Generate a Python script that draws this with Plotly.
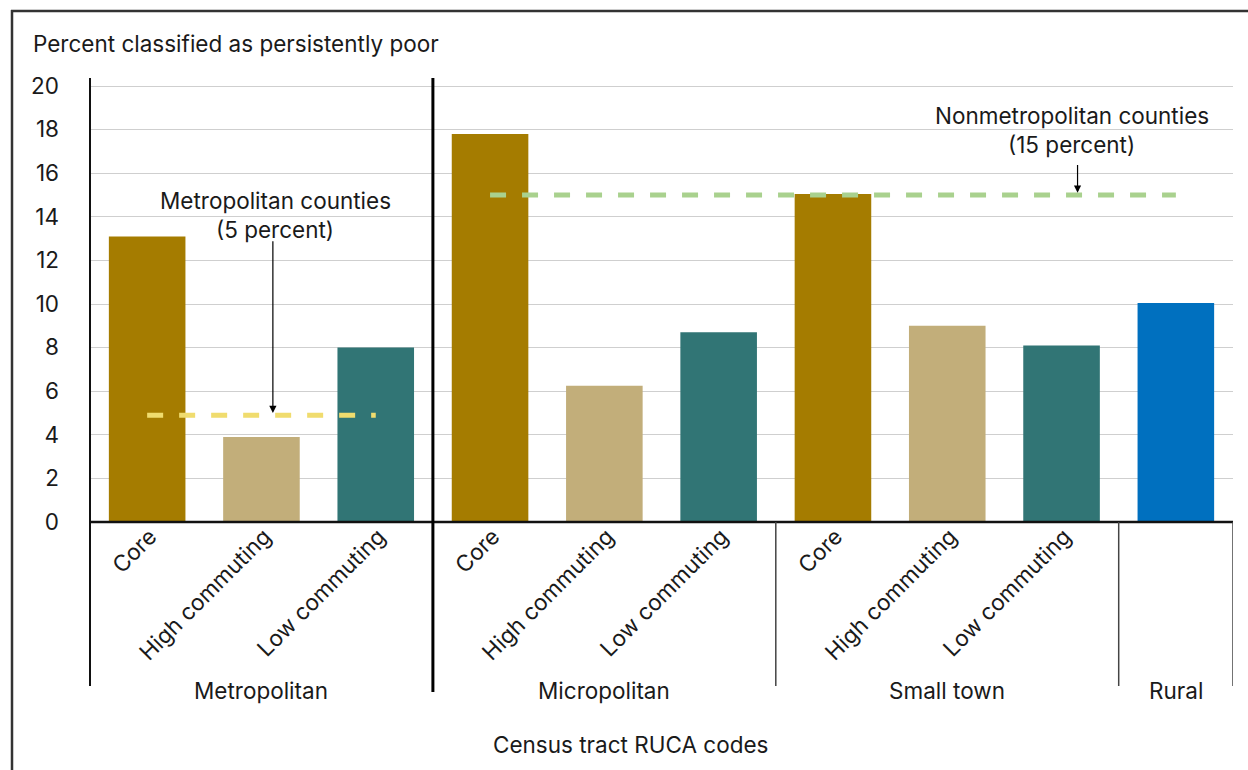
import plotly.graph_objects as go

# ---- data ----
categories = ["Core", "High commuting", "Low commuting",
              "Core", "High commuting", "Low commuting",
              "Core", "High commuting", "Low commuting",
              ""]
groups = ["Metropolitan", "Micropolitan", "Small town", "Rural"]
group_sizes = [3, 3, 3, 1]
values = [13.1, 3.9, 8.0, 17.8, 6.25, 8.7, 15.05, 9.0, 8.1, 10.05]
bar_colors = ["#A57C00", "#C2AE7A", "#317575",
              "#A57C00", "#C2AE7A", "#317575",
              "#A57C00", "#C2AE7A", "#317575",
              "#0070BF"]
metro_avg = 4.9
nonmetro_avg = 15.0
y_ticks = list(range(0, 21, 2))

W, H = 1248, 770
ML, MR, MT, MB = 90, 15, 78, 248
PW = W - ML - MR
PH = H - MT - MB

def px_x(p):
    return (p - ML) / PW

def px_y(p):
    return (H - MB - p) / PH

FONT = "Inter"
FS = 22.5
TXT = "#1a1a1a"

x_idx = list(range(len(values)))

fig = go.Figure()
fig.add_trace(go.Bar(x=x_idx, y=values, marker=dict(color=bar_colors, line=dict(width=0)),
                     width=0.67, showlegend=False, hoverinfo="skip"))
fig.add_trace(go.Scatter(x=[0, 2], y=[metro_avg, metro_avg], mode="lines",
                         line=dict(color="#F0DC6E", width=5, dash="16px,16px"),
                         showlegend=False, hoverinfo="skip"))
fig.add_trace(go.Scatter(x=[3, 9], y=[nonmetro_avg, nonmetro_avg], mode="lines",
                         line=dict(color="#A9D18E", width=5, dash="16px,16px"),
                         showlegend=False, hoverinfo="skip"))

shapes = []
# frame
shapes.append(dict(type="line", xref="paper", yref="paper", x0=px_x(12), x1=px_x(12),
                   y0=px_y(10), y1=px_y(775), line=dict(color="#333333", width=2.5)))
shapes.append(dict(type="line", xref="paper", yref="paper", x0=px_x(11), x1=px_x(1260),
                   y0=px_y(11), y1=px_y(11), line=dict(color="#333333", width=2.5)))
# left axis line
shapes.append(dict(type="line", xref="paper", yref="paper", x0=0, x1=0,
                   y0=px_y(686), y1=1, line=dict(color="#111111", width=2)))
# bottom axis line
shapes.append(dict(type="line", xref="paper", yref="paper", x0=0, x1=1,
                   y0=0, y1=0, line=dict(color="#111111", width=2.5)))
# group separators
start = 0
bounds = []
for s in group_sizes:
    bounds.append((start - 0.5, start + s - 0.5))
    start += s
for i, (a, b) in enumerate(bounds):
    if i == 0:
        shapes.append(dict(type="line", xref="x", yref="paper", x0=b, x1=b,
                           y0=px_y(692), y1=1, line=dict(color="#000000", width=3)))
    else:
        shapes.append(dict(type="line", xref="x", yref="paper", x0=b, x1=b,
                           y0=px_y(686), y1=0, line=dict(color="#444444", width=1.5)))

annotations = []
def txt(text, x, y, xref="paper", yref="paper", xanchor="center"):
    annotations.append(dict(text=text, xref=xref, yref=yref, x=x, y=y,
                            xanchor=xanchor, yanchor="middle", showarrow=False,
                            font=dict(family=FONT, size=FS, color=TXT)))

txt("Percent classified as persistently poor", px_x(31), px_y(44), xanchor="left")
for g, (a, b) in zip(groups, bounds):
    txt(g, (a + b) / 2, px_y(690), xref="x")
txt("Census tract RUCA codes", px_x(630), px_y(744))
# callouts
txt("Metropolitan counties", 1.12, px_y(201), xref="x")
txt("(5 percent)", 1.12, px_y(230), xref="x")
annotations.append(dict(text="", xref="x", yref="y", axref="x", ayref="y",
                        x=1.1, y=metro_avg + 0.1, ax=1.1, ay=12.95, showarrow=True,
                        arrowhead=2, arrowsize=1.2, arrowwidth=1.2, arrowcolor="#000000"))
txt("Nonmetropolitan counties", 8.09, px_y(115), xref="x")
txt("(15 percent)", 8.09, px_y(144), xref="x")
annotations.append(dict(text="", xref="x", yref="y", axref="x", ayref="y",
                        x=8.14, y=nonmetro_avg + 0.1, ax=8.14, ay=16.45, showarrow=True,
                        arrowhead=2, arrowsize=1.2, arrowwidth=1.2, arrowcolor="#000000"))

fig.update_layout(
    width=W, height=H,
    margin=dict(l=ML, r=MR, t=MT, b=MB, pad=0),
    paper_bgcolor="white", plot_bgcolor="white",
    font=dict(family=FONT, size=FS, color=TXT),
    shapes=shapes, annotations=annotations,
    xaxis=dict(range=[-0.5, 9.5], tickmode="array", tickvals=x_idx, ticktext=categories,
               tickangle=-45, showgrid=False, zeroline=False, showline=False, ticks="",
               ticklabelstandoff=-4, ticklabelshift=3,
               tickfont=dict(family=FONT, size=FS, color=TXT), fixedrange=True),
    yaxis=dict(range=[0, PH / 21.8], tickmode="array", tickvals=y_ticks,
               ticktext=[str(v) for v in y_ticks], showgrid=True, gridcolor="#CFCFCF",
               gridwidth=1.3, zeroline=False, showline=False, ticks="",
               ticklabelstandoff=30,
               tickfont=dict(family=FONT, size=FS, color=TXT), fixedrange=True),
)

fig.write_html("out.html")
